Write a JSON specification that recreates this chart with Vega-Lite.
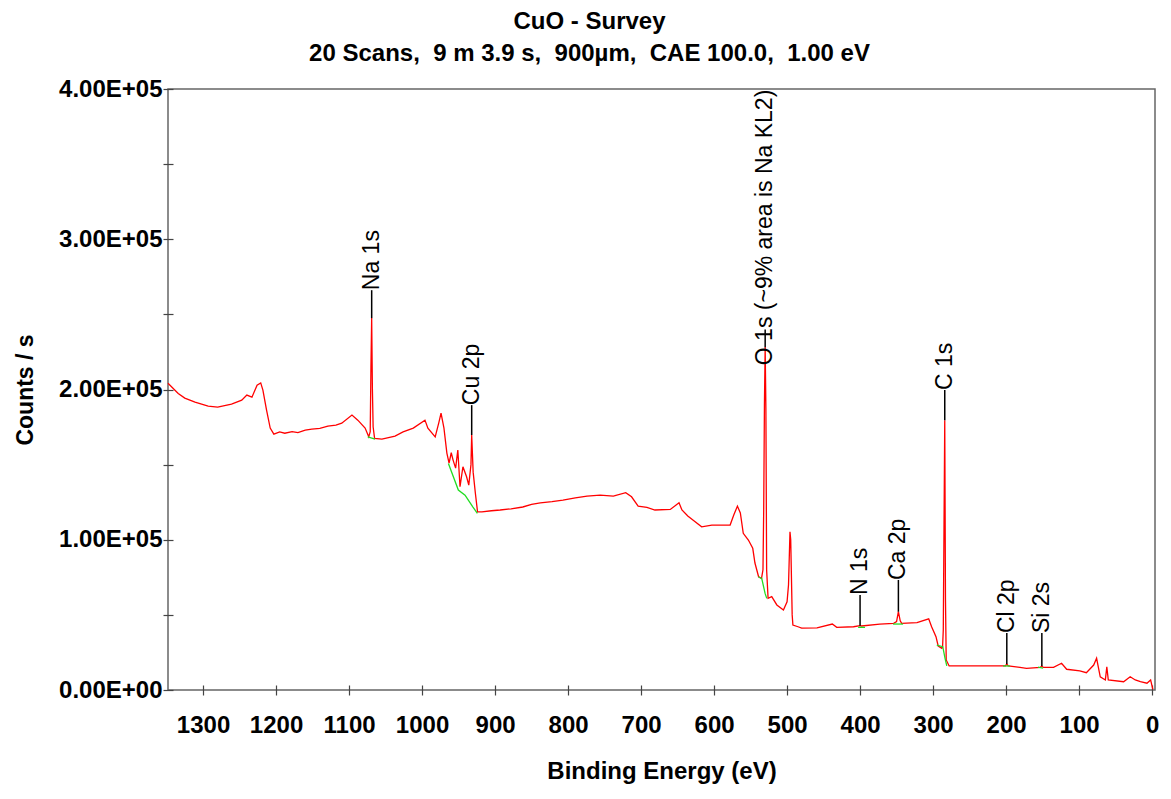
{
  "$schema": "https://vega.github.io/schema/vega-lite/v6.json",
  "width": 987,
  "height": 601,
  "autosize": {"type": "none"},
  "padding": {"left": 168, "top": 89, "right": 16, "bottom": 109},
  "background": "white",
  "title": {
    "text": "CuO - Survey",
    "subtitle": "20 Scans,\u00a0 9 m 3.9 s,\u00a0 900µm,\u00a0 CAE 100.0,\u00a0 1.00 eV",
    "font": "Liberation Sans",
    "subtitleFont": "Liberation Sans",
    "fontSize": 24,
    "subtitleFontSize": 24,
    "fontWeight": "bold",
    "subtitleFontWeight": "bold",
    "color": "black",
    "subtitleColor": "black",
    "anchor": "middle",
    "dx": -72,
    "offset": 11,
    "subtitlePadding": 8
  },
  "config": {
    "view": {"stroke": "#666666", "strokeWidth": 1.5},
    "font": "Liberation Sans"
  },
  "datasets": {
    "spec": [
      {"E": 1348, "c": 204200}, {"E": 1334, "c": 197400}, {"E": 1325, "c": 194300}, {"E": 1311, "c": 191600},
      {"E": 1293, "c": 188900}, {"E": 1280, "c": 188300}, {"E": 1261, "c": 190300}, {"E": 1247, "c": 192900},
      {"E": 1240, "c": 196300}, {"E": 1233, "c": 194900}, {"E": 1226, "c": 202900}, {"E": 1221, "c": 204400},
      {"E": 1218, "c": 199600}, {"E": 1213, "c": 186300}, {"E": 1208, "c": 174300}, {"E": 1203, "c": 170300},
      {"E": 1195, "c": 171800}, {"E": 1188, "c": 170900}, {"E": 1178, "c": 172000}, {"E": 1170, "c": 171300},
      {"E": 1160, "c": 173000}, {"E": 1151, "c": 173600}, {"E": 1140, "c": 174100}, {"E": 1129, "c": 175600},
      {"E": 1118, "c": 176300}, {"E": 1110, "c": 177600}, {"E": 1096, "c": 183000}, {"E": 1088, "c": 179600}, {"E": 1078, "c": 174300},
      {"E": 1073, "c": 168500}, {"E": 1071, "c": 172000}, {"E": 1070, "c": 215000}, {"E": 1069, "c": 247500},
      {"E": 1068, "c": 200000}, {"E": 1067, "c": 175000}, {"E": 1065, "c": 167500}, {"E": 1055, "c": 167000},
      {"E": 1037, "c": 169000}, {"E": 1026, "c": 171800}, {"E": 1012, "c": 174300}, {"E": 996, "c": 179600},
      {"E": 992, "c": 174300}, {"E": 982, "c": 168500}, {"E": 977, "c": 178000}, {"E": 974, "c": 184300},
      {"E": 970, "c": 174300}, {"E": 966, "c": 157700}, {"E": 963, "c": 151000}, {"E": 960, "c": 157900},
      {"E": 957.5, "c": 153000}, {"E": 954, "c": 147700}, {"E": 951, "c": 159700}, {"E": 948, "c": 135300},
      {"E": 944, "c": 148600}, {"E": 939, "c": 141900}, {"E": 936, "c": 136400}, {"E": 933, "c": 150000},
      {"E": 932, "c": 169700}, {"E": 930, "c": 145000}, {"E": 927, "c": 131100}, {"E": 924, "c": 118600},
      {"E": 918, "c": 118600}, {"E": 905, "c": 119300}, {"E": 893, "c": 119800}, {"E": 878, "c": 120600}, {"E": 862, "c": 121800},
      {"E": 850, "c": 123600}, {"E": 838, "c": 124600},
      {"E": 822, "c": 125400}, {"E": 807, "c": 126400}, {"E": 790, "c": 127800}, {"E": 774, "c": 129100}, {"E": 756, "c": 129700}, {"E": 738, "c": 129100},
      {"E": 721, "c": 131300}, {"E": 713, "c": 128600}, {"E": 704, "c": 122400}, {"E": 692, "c": 121600},
      {"E": 681, "c": 119800}, {"E": 660, "c": 120200}, {"E": 652, "c": 123100}, {"E": 648, "c": 124600},
      {"E": 644, "c": 119800}, {"E": 636, "c": 115800}, {"E": 629, "c": 113100}, {"E": 617, "c": 108600},
      {"E": 603, "c": 109800}, {"E": 578, "c": 109800}, {"E": 573, "c": 116400}, {"E": 568, "c": 122400},
      {"E": 564, "c": 117800}, {"E": 560, "c": 104300}, {"E": 553, "c": 99800}, {"E": 547, "c": 94300},
      {"E": 544, "c": 84500}, {"E": 539, "c": 75400}, {"E": 535, "c": 74300}, {"E": 533, "c": 80000},
      {"E": 532, "c": 120000}, {"E": 531, "c": 190000}, {"E": 530, "c": 228200}, {"E": 529, "c": 187600},
      {"E": 528, "c": 80000}, {"E": 526, "c": 61000}, {"E": 521, "c": 62100}, {"E": 514, "c": 56600},
      {"E": 505, "c": 53200}, {"E": 500, "c": 58700}, {"E": 498, "c": 70000}, {"E": 496, "c": 105300},
      {"E": 495, "c": 100000}, {"E": 493, "c": 50000}, {"E": 492, "c": 43200}, {"E": 485, "c": 42100},
      {"E": 480, "c": 41200}, {"E": 459, "c": 41400}, {"E": 438, "c": 43900}, {"E": 432, "c": 41700},
      {"E": 409, "c": 42100}, {"E": 400, "c": 42800}, {"E": 398, "c": 42600}, {"E": 373, "c": 43900},
      {"E": 354, "c": 44400}, {"E": 350, "c": 45500}, {"E": 347.5, "c": 52100}, {"E": 345, "c": 46000},
      {"E": 343, "c": 44400}, {"E": 322, "c": 44800}, {"E": 306, "c": 47400}, {"E": 302, "c": 42100},
      {"E": 296, "c": 35500}, {"E": 293, "c": 29300}, {"E": 288, "c": 27700}, {"E": 287, "c": 28500},
      {"E": 286, "c": 40000}, {"E": 285, "c": 110000}, {"E": 284, "c": 179600}, {"E": 283, "c": 60000},
      {"E": 282, "c": 20000}, {"E": 278, "c": 16000}, {"E": 268, "c": 16000}, {"E": 231, "c": 16000},
      {"E": 201, "c": 16000}, {"E": 199, "c": 17300}, {"E": 197, "c": 16000}, {"E": 181, "c": 15100},
      {"E": 172, "c": 14400}, {"E": 153, "c": 15100}, {"E": 151, "c": 15900}, {"E": 149, "c": 15000},
      {"E": 135, "c": 15100}, {"E": 124, "c": 17800}, {"E": 117, "c": 13800}, {"E": 99, "c": 12800},
      {"E": 90, "c": 11500}, {"E": 80, "c": 16600}, {"E": 76, "c": 21100}, {"E": 71, "c": 8800},
      {"E": 64, "c": 6700}, {"E": 62, "c": 15500}, {"E": 60, "c": 6700}, {"E": 39, "c": 5500},
      {"E": 30, "c": 8800}, {"E": 23, "c": 6700}, {"E": 16, "c": 5500}, {"E": 7, "c": 4500},
      {"E": 2, "c": 6700}, {"E": -1, "c": 500}
    ],
    "bg": [
      {"seg": "Na", "E": 1074.4, "c": 168500}, {"seg": "Na", "E": 1064.4, "c": 167000},
      {"seg": "Cu", "E": 963.9, "c": 150800}, {"seg": "Cu", "E": 950.3, "c": 133100}, {"seg": "Cu", "E": 941.1, "c": 129700},
      {"seg": "Cu", "E": 930.5, "c": 121900}, {"seg": "Cu", "E": 924.2, "c": 117600},
      {"seg": "O", "E": 539.3, "c": 75400}, {"seg": "O", "E": 534.7, "c": 74300}, {"seg": "O", "E": 530.1, "c": 64300},
      {"seg": "O", "E": 527.8, "c": 61000},
      {"seg": "N", "E": 402.7, "c": 41700}, {"seg": "N", "E": 393.2, "c": 41700},
      {"seg": "Ca", "E": 354.8, "c": 43900}, {"seg": "Ca", "E": 341.1, "c": 43900},
      {"seg": "C", "E": 294.9, "c": 29900}, {"seg": "C", "E": 286.7, "c": 28800}, {"seg": "C", "E": 283.6, "c": 21100},
      {"seg": "C", "E": 281.2, "c": 16000},
      {"seg": "Cl", "E": 204.1, "c": 16000}, {"seg": "Cl", "E": 194.5, "c": 16000},
      {"seg": "Si", "E": 156.2, "c": 15300}, {"seg": "Si", "E": 149.3, "c": 14600}
    ],
    "labels": [
      {"label": "Na 1s", "E": 1069, "peak": 247500, "top": 266100, "ty": 266100},
      {"label": "Cu 2p", "E": 932, "peak": 169700, "top": 189600, "ty": 189600},
      {"label": "O 1s (~9% area is Na KL2)", "E": 530, "peak": 228200, "top": 240000, "ty": 216200},
      {"label": "N 1s", "E": 400, "peak": 42800, "top": 63200, "ty": 63200},
      {"label": "Ca 2p", "E": 347.5, "peak": 52100, "top": 73200, "ty": 73200},
      {"label": "C 1s", "E": 284, "peak": 179600, "top": 199600, "ty": 199600},
      {"label": "Cl 2p", "E": 199, "peak": 17300, "top": 37900, "ty": 37900},
      {"label": "Si 2s", "E": 151, "peak": 15900, "top": 37900, "ty": 37900}
    ]
  },
  "layer": [
    {
      "data": {"name": "spec"},
      "mark": {"type": "line", "color": "#ff0000", "strokeWidth": 1.3},
      "encoding": {
        "x": {
          "field": "E", "type": "quantitative", "title": "Binding Energy (eV)",
          "scale": {"domain": [-4, 1348], "reverse": true, "nice": false, "zero": false},
          "axis": {
            "values": [0, 50, 100, 150, 200, 250, 300, 350, 400, 450, 500, 550, 600, 650, 700, 750, 800, 850, 900, 950, 1000, 1050, 1100, 1150, 1200, 1250, 1300],
            "labelExpr": "datum.value % 100 === 0 ? format(datum.value, 'd') : ''",
            "grid": false,
            "domain": false,
            "offset": -5,
            "tickSize": 10,
            "tickColor": "#444444",
            "tickWidth": 1.2,
            "labelFont": "Liberation Sans",
            "labelFontSize": 24,
            "labelFontWeight": "bold",
            "labelColor": "black",
            "labelPadding": 18,
            "labelFlush": false,
            "labelOverlap": false,
            "titleFont": "Liberation Sans",
            "titleFontSize": 24,
            "titleFontWeight": "bold",
            "titleColor": "black",
            "titlePadding": 22
          }
        },
        "y": {
          "field": "c", "type": "quantitative", "title": "Counts / s",
          "scale": {"domain": [0, 400000], "nice": false, "zero": true},
          "axis": {
            "values": [0, 50000, 100000, 150000, 200000, 250000, 300000, 350000, 400000],
            "labelExpr": "datum.value % 100000 === 0 ? (datum.value === 0 ? '0.00E+00' : format(datum.value / 100000, '.2f') + 'E+05') : ''",
            "grid": false,
            "domain": false,
            "offset": -5,
            "tickSize": 10,
            "tickColor": "#444444",
            "tickWidth": 1.2,
            "labelFont": "Liberation Sans",
            "labelFontSize": 24,
            "labelFontWeight": "bold",
            "labelColor": "black",
            "labelPadding": 1,
            "labelFlush": false,
            "labelOverlap": false,
            "titleFont": "Liberation Sans",
            "titleFontSize": 23,
            "titleFontWeight": "bold",
            "titleColor": "black",
            "titlePadding": 21
          }
        }
      }
    },
    {
      "data": {"name": "bg"},
      "mark": {"type": "line", "color": "#22dd22", "strokeWidth": 1.3},
      "encoding": {
        "x": {"field": "E", "type": "quantitative", "title": "Binding Energy (eV)"},
        "y": {"field": "c", "type": "quantitative", "title": "Counts / s"},
        "detail": {"field": "seg", "type": "nominal"}
      }
    },
    {
      "data": {"name": "labels"},
      "mark": {"type": "rule", "color": "black", "strokeWidth": 1.5},
      "encoding": {
        "x": {"field": "E", "type": "quantitative", "title": "Binding Energy (eV)"},
        "y": {"field": "peak", "type": "quantitative", "title": "Counts / s"},
        "y2": {"field": "top"}
      }
    },
    {
      "data": {"name": "labels"},
      "mark": {"type": "text", "angle": 270, "align": "left", "baseline": "middle", "font": "Liberation Sans", "fontSize": 23, "color": "black"},
      "encoding": {
        "x": {"field": "E", "type": "quantitative", "title": "Binding Energy (eV)"},
        "y": {"field": "ty", "type": "quantitative", "title": "Counts / s"},
        "text": {"field": "label", "type": "nominal"}
      }
    }
  ]
}
